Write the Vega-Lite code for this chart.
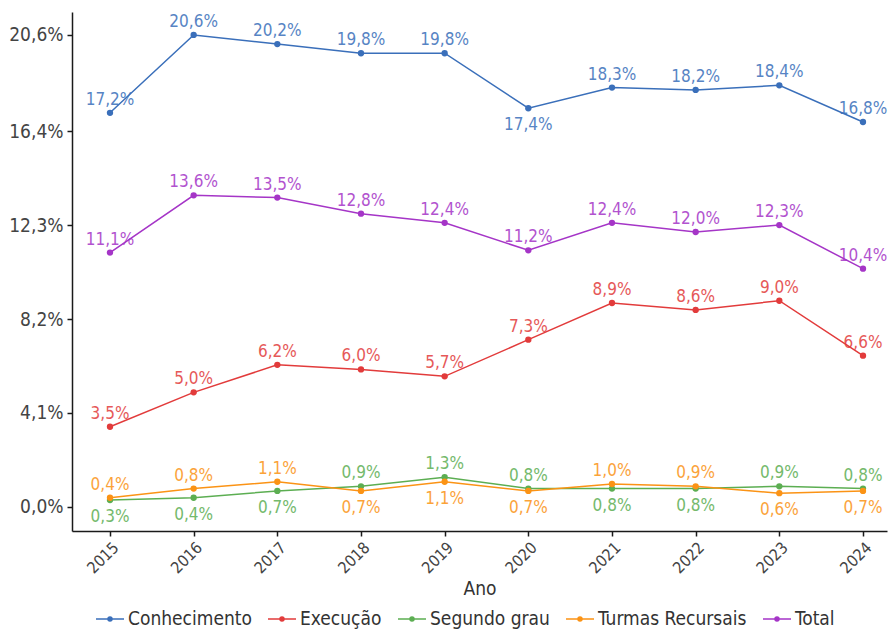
{
  "$schema": "https://vega.github.io/schema/vega-lite/v6.json",
  "width": 815,
  "height": 519,
  "autosize": {"type": "none"},
  "padding": {"left": 72, "top": 12, "right": 3, "bottom": 101},
  "background": "white",
  "config": {
    "locale": {"number": {"decimal": ",", "thousands": ".", "grouping": [3], "currency": ["R$", ""]}},
    "font": "DejaVu Sans Condensed, Liberation Sans Narrow, sans-serif",
    "view": {"stroke": null},
    "axis": {"grid": false, "domainColor": "#1a1a1a", "domainWidth": 1.5, "tickColor": "#1a1a1a", "tickWidth": 1.5, "tickSize": 5, "labelColor": "#444444", "labelFont": "DejaVu Sans Condensed, Liberation Sans Narrow, sans-serif", "titleFont": "DejaVu Sans Condensed, Liberation Sans Narrow, sans-serif", "titleFontWeight": "normal", "titleColor": "#333333"}
  },
  "data": {
    "values": [
      {"ano": 2015, "serie": "Conhecimento", "valor": 0.172},
      {"ano": 2016, "serie": "Conhecimento", "valor": 0.206},
      {"ano": 2017, "serie": "Conhecimento", "valor": 0.202},
      {"ano": 2018, "serie": "Conhecimento", "valor": 0.198},
      {"ano": 2019, "serie": "Conhecimento", "valor": 0.198},
      {"ano": 2020, "serie": "Conhecimento", "valor": 0.174},
      {"ano": 2021, "serie": "Conhecimento", "valor": 0.183},
      {"ano": 2022, "serie": "Conhecimento", "valor": 0.182},
      {"ano": 2023, "serie": "Conhecimento", "valor": 0.184},
      {"ano": 2024, "serie": "Conhecimento", "valor": 0.168},
      {"ano": 2015, "serie": "Execução", "valor": 0.035},
      {"ano": 2016, "serie": "Execução", "valor": 0.050},
      {"ano": 2017, "serie": "Execução", "valor": 0.062},
      {"ano": 2018, "serie": "Execução", "valor": 0.060},
      {"ano": 2019, "serie": "Execução", "valor": 0.057},
      {"ano": 2020, "serie": "Execução", "valor": 0.073},
      {"ano": 2021, "serie": "Execução", "valor": 0.089},
      {"ano": 2022, "serie": "Execução", "valor": 0.086},
      {"ano": 2023, "serie": "Execução", "valor": 0.090},
      {"ano": 2024, "serie": "Execução", "valor": 0.066},
      {"ano": 2015, "serie": "Segundo grau", "valor": 0.003},
      {"ano": 2016, "serie": "Segundo grau", "valor": 0.004},
      {"ano": 2017, "serie": "Segundo grau", "valor": 0.007},
      {"ano": 2018, "serie": "Segundo grau", "valor": 0.009},
      {"ano": 2019, "serie": "Segundo grau", "valor": 0.013},
      {"ano": 2020, "serie": "Segundo grau", "valor": 0.008},
      {"ano": 2021, "serie": "Segundo grau", "valor": 0.008},
      {"ano": 2022, "serie": "Segundo grau", "valor": 0.008},
      {"ano": 2023, "serie": "Segundo grau", "valor": 0.009},
      {"ano": 2024, "serie": "Segundo grau", "valor": 0.008},
      {"ano": 2015, "serie": "Turmas Recursais", "valor": 0.004},
      {"ano": 2016, "serie": "Turmas Recursais", "valor": 0.008},
      {"ano": 2017, "serie": "Turmas Recursais", "valor": 0.011},
      {"ano": 2018, "serie": "Turmas Recursais", "valor": 0.007},
      {"ano": 2019, "serie": "Turmas Recursais", "valor": 0.011},
      {"ano": 2020, "serie": "Turmas Recursais", "valor": 0.007},
      {"ano": 2021, "serie": "Turmas Recursais", "valor": 0.010},
      {"ano": 2022, "serie": "Turmas Recursais", "valor": 0.009},
      {"ano": 2023, "serie": "Turmas Recursais", "valor": 0.006},
      {"ano": 2024, "serie": "Turmas Recursais", "valor": 0.007},
      {"ano": 2015, "serie": "Total", "valor": 0.111},
      {"ano": 2016, "serie": "Total", "valor": 0.136},
      {"ano": 2017, "serie": "Total", "valor": 0.135},
      {"ano": 2018, "serie": "Total", "valor": 0.128},
      {"ano": 2019, "serie": "Total", "valor": 0.124},
      {"ano": 2020, "serie": "Total", "valor": 0.112},
      {"ano": 2021, "serie": "Total", "valor": 0.124},
      {"ano": 2022, "serie": "Total", "valor": 0.120},
      {"ano": 2023, "serie": "Total", "valor": 0.123},
      {"ano": 2024, "serie": "Total", "valor": 0.104}
    ]
  },
  "encoding": {
    "x": {
      "field": "ano", "type": "quantitative",
      "scale": {"domain": [2014.546, 2024.287], "nice": false, "zero": false},
      "axis": {"values": [2015, 2016, 2017, 2018, 2019, 2020, 2021, 2022, 2023, 2024], "format": "d", "labelAngle": -45, "labelFontSize": 16, "labelPadding": 3, "title": "Ano", "titleFontSize": 19, "titlePadding": 3}
    },
    "y": {
      "field": "valor", "type": "quantitative",
      "scale": {"domain": [-0.0105, 0.216], "nice": false, "zero": false},
      "axis": {"values": [0, 0.041, 0.082, 0.123, 0.164, 0.206], "format": ".1%", "labelFontSize": 19, "labelPadding": 4, "title": null}
    },
    "color": {
      "field": "serie", "type": "nominal",
      "scale": {"domain": ["Conhecimento", "Execução", "Segundo grau", "Turmas Recursais", "Total"], "range": ["#3a6fba", "#e23b3b", "#5cae52", "#fb9315", "#a535c7"]},
      "legend": {"title": null, "orient": "none", "direction": "horizontal", "legendX": 23, "legendY": 592, "symbolType": "M-1,0L1,0M-0.14,0a0.14,0.14 0 1,0 0.28,0a0.14,0.14 0 1,0 -0.28,0", "symbolSize": 784, "symbolStrokeWidth": 1.6, "labelFontSize": 19, "labelColor": "#333333", "labelFont": "DejaVu Sans Condensed, Liberation Sans Narrow, sans-serif", "columnPadding": 12, "labelOffset": 3}
    }
  },
  "layer": [
    {"mark": {"type": "line", "strokeWidth": 1.5}},
    {"mark": {"type": "point", "filled": true, "size": 40, "opacity": 1}},
    {
      "transform": [{"filter": "!((datum.serie == 'Conhecimento' && datum.ano == 2020) || (datum.serie == 'Segundo grau' && (datum.ano == 2015 || datum.ano == 2016 || datum.ano == 2017 || datum.ano == 2021 || datum.ano == 2022)) || (datum.serie == 'Turmas Recursais' && (datum.ano == 2018 || datum.ano == 2019 || datum.ano == 2020 || datum.ano == 2023 || datum.ano == 2024)))"}],
      "mark": {"type": "text", "dy": -8, "baseline": "alphabetic", "fontSize": 17, "opacity": 0.85},
      "encoding": {"text": {"field": "valor", "type": "quantitative", "format": ".1%"}}
    },
    {
      "transform": [{"filter": "(datum.serie == 'Conhecimento' && datum.ano == 2020) || (datum.serie == 'Segundo grau' && (datum.ano == 2015 || datum.ano == 2016 || datum.ano == 2017 || datum.ano == 2021 || datum.ano == 2022)) || (datum.serie == 'Turmas Recursais' && (datum.ano == 2018 || datum.ano == 2019 || datum.ano == 2020 || datum.ano == 2023 || datum.ano == 2024))"}],
      "mark": {"type": "text", "dy": 9, "baseline": "top", "fontSize": 17, "opacity": 0.85},
      "encoding": {"text": {"field": "valor", "type": "quantitative", "format": ".1%"}}
    }
  ]
}
